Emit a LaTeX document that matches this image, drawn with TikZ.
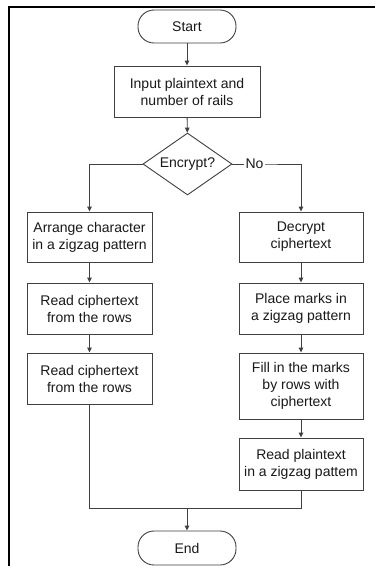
\documentclass[tikz,border=0pt]{standalone}
\usepackage{fontspec}
\setmainfont{Liberation Sans}
\usetikzlibrary{shapes.geometric,arrows.meta}
\begin{document}
\begin{tikzpicture}[x=1pt,y=-1pt,
  base/.style={draw=black!75, line width=0.9pt, text=black!90, align=center,
    font=\fontsize{14}{17}\selectfont, inner sep=0pt},
  term/.style={base, rectangle, rounded corners=16pt, minimum width=98pt, minimum height=33pt},
  proc/.style={base, rectangle, minimum height=51pt},
  lbox/.style={proc, minimum width=125pt},
  rbox/.style={proc, minimum width=124pt},
  decision/.style={base, diamond, shape aspect=1.43, minimum width=89pt, minimum height=62pt},
  flow/.style={draw=black!75, line width=0.9pt, -{Triangle[length=5pt,width=4.5pt]}},
  line/.style={draw=black!75, line width=0.9pt}]
\useasboundingbox (0,0) rectangle (375,566);
\fill[white] (0,0) rectangle (375,566);
\draw[line width=1.5pt, black] (9,566) -- (9,7) -- (375,7);

\node[term] (start) at (187,26.5) {Start};
\node[proc, minimum width=146pt] (input) at (187,91.5) {Input plaintext and\\number of rails};
\node[decision] (dec) at (187.5,164) {Encrypt?};

\node[lbox, minimum height=50pt] (L1) at (89.5,237) {Arrange character\\in a zigzag pattern};
\node[lbox] (L2) at (89.5,308.5) {Read ciphertext\\from the rows};
\node[lbox] (L3) at (89.5,378.5) {Read ciphertext\\from the rows};

\node[rbox, minimum height=50pt] (R1) at (301,237) {Decrypt\\ciphertext};
\node[rbox] (R2) at (301,308.5) {Place marks in\\a zigzag pattern};
\node[rbox, minimum height=66pt] (R3) at (301,386) {Fill in the marks\\by rows with\\ciphertext};
\node[rbox, minimum height=52pt] (R4) at (301,464) {Read plaintext\\in a zigzag pattem};

\node[term, minimum height=34pt] (end) at (187,548) {End};
\coordinate (m) at (187,508);

\draw[flow] (start) -- (input);
\draw[flow] (input) -- (dec);
\draw[flow] (dec.west) -| (L1.north);
\draw[flow] (dec.east) -- ++(22,0) node[fill=white, inner sep=1.5pt, text=black!90, font=\fontsize{14}{17}\selectfont] {No} -| (R1.north);
\draw[flow] (L1) -- (L2);
\draw[flow] (L2) -- (L3);
\draw[flow] (R1) -- (R2);
\draw[flow] (R2) -- (R3);
\draw[flow] (R3) -- (R4);
\draw[line] (L3.south) |- (m);
\draw[line] (R4.south) |- (m);
\draw[flow] (m) -- (end);
\end{tikzpicture}
\end{document}
